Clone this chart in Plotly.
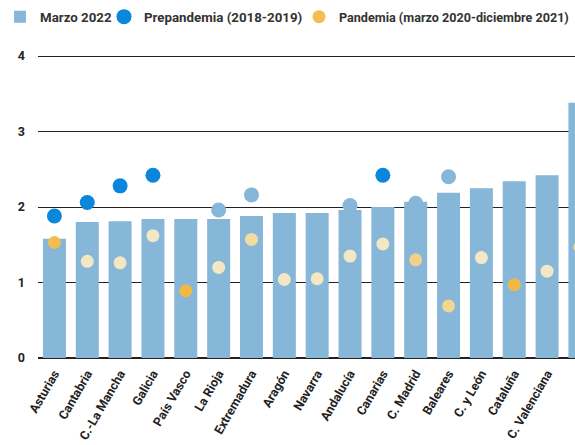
import plotly.graph_objects as go

regions = ["Asturias", "Cantabria", "C.-La Mancha", "Galicia", "País Vasco", "La Rioja",
           "Extremadura", "Aragón", "Navarra", "Andalucía", "Canarias", "C. Madrid",
           "Baleares", "C. y León", "Cataluña", "C. Valenciana", "Murcia"]
marzo_2022 = [1.58, 1.80, 1.81, 1.84, 1.84, 1.84, 1.88, 1.92, 1.92, 1.96, 2.00, 2.07,
              2.19, 2.25, 2.34, 2.42, 3.38]
prepandemia = [1.88, 2.06, 2.28, 2.42, None, 1.96, 2.16, None, None, 2.02, 2.42, 2.05,
               2.40, None, None, None, None]
pandemia = [1.53, 1.28, 1.26, 1.62, 0.89, 1.20, 1.57, 1.04, 1.05, 1.35, 1.51, 1.30,
            0.69, 1.33, 0.97, 1.15, 1.47]
y_ticks = [0, 1, 2, 3, 4]

BAR = "#86b6d8"
DARK_BLUE = "#0a86da"
pre_colors = [DARK_BLUE, DARK_BLUE, DARK_BLUE, DARK_BLUE, DARK_BLUE, BAR, BAR, BAR, BAR,
              BAR, DARK_BLUE, BAR, BAR, BAR, BAR, BAR, BAR]
PALE = "#f4e8c4"
ORANGE = "#f1b944"
pan_colors = ["#f2bd52", PALE, PALE, PALE, ORANGE, PALE, "#f3dca0", PALE, PALE, PALE,
              PALE, "#f2cf8a", "#f3d690", PALE, ORANGE, PALE, "#f3dca0"]

fig = go.Figure()
fig.add_trace(go.Bar(x=regions, y=marzo_2022, name="Marzo 2022", legend="legend",
                     marker=dict(color=BAR, line=dict(width=0)), width=0.7))
fig.add_trace(go.Scatter(x=regions, y=prepandemia, mode="markers", legend="legend2",
                         name="Prepandemia (2018-2019)",
                         marker=dict(size=15, color=pre_colors, line=dict(width=0))))
fig.add_trace(go.Scatter(x=regions, y=pandemia, mode="markers", legend="legend3",
                         name="Pandemia (marzo 2020-diciembre 2021)",
                         marker=dict(size=13, color=pan_colors, line=dict(width=0))))

W, H = 575, 445
ML, MR, MT, MB = 38, 0, 48, 87
PW, PH = W - ML - MR, H - MT - MB


def px_x(p):
    return (p - ML) / PW


def px_y(p):
    return (H - MB - p) / PH


leg_common = dict(orientation="h", xanchor="left", yanchor="middle", xref="paper",
                  yref="paper", itemwidth=30, borderwidth=0,
                  bgcolor="rgba(0,0,0,0)")

fig.update_layout(
    width=W, height=H,
    margin=dict(l=ML, r=MR, t=MT, b=MB, autoexpand=False),
    paper_bgcolor="white", plot_bgcolor="white",
    showlegend=True,
    legend=dict(x=px_x(0), y=px_y(17),
                font=dict(family="Roboto", size=13.3, color="#333", weight="bold"),
                **leg_common),
    legend2=dict(x=px_x(104), y=px_y(17),
                 font=dict(family="Roboto", size=13.3, color="#333", weight="bold"),
                 **leg_common),
    legend3=dict(x=px_x(299), y=px_y(17),
                 font=dict(family="Roboto", size=12.6, color="#333", weight="bold"),
                 **leg_common),
    font=dict(family="Roboto", color="#222"),
)
fig.update_xaxes(range=[-0.5, 15.85], tickangle=-60, showgrid=False, showline=False,
                 ticks="", automargin=False, ticklabelstandoff=5,
                 tickfont=dict(family="Roboto", size=12.5, color="#222", weight="bold"))
fig.update_yaxes(range=[0, PH / 75.5], tickvals=y_ticks, showgrid=True, gridcolor="#222",
                 gridwidth=1.3, zeroline=True, zerolinecolor="#222", zerolinewidth=1.5,
                 showline=False, ticklabelstandoff=12, automargin=False,
                 tickfont=dict(family="Roboto", size=12.5, color="#222", weight="bold"))

fig.write_html("out.html", config={"displayModeBar": False},
               post_script="document.body.style.margin='0px';document.body.style.overflow='hidden';")
